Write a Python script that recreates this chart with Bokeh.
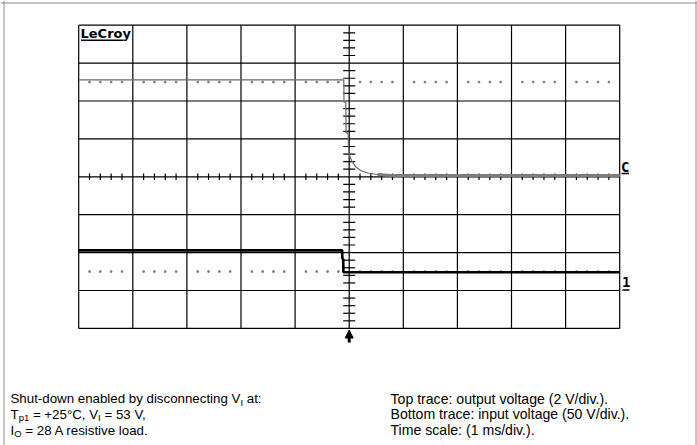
import numpy as np
from bokeh.plotting import figure
from bokeh.models import Range1d, Span, Arrow, NormalHead
from bokeh.core.properties import value
from bokeh.embed import file_html
from bokeh.resources import INLINE

# ---------------- data ----------------
# time axis in ms (1 ms/div), 0 = trigger
top_t = [-5.0, -0.10, -0.096, -0.063, -0.059, -0.018, -0.015, 0.006, 0.043,
         0.116, 0.209, 0.338, 0.523, 0.763, 5.0]
# output voltage (channel C), volts, 2 V/div, ground at centre line
top_v = [5.12, 5.12, 3.94, 3.94, 2.30, 2.30, 1.65, 1.12, 0.86,
         0.54, 0.33, 0.20, 0.12, 0.07, 0.07]
# input voltage (channel 1), volts, 50 V/div, ground at -2.5 div
bot_t = [-5.0, -0.13, -0.126, -0.111, -0.107, 5.0]
bot_v = [28.0, 28.0, 16.8, 16.8, -1.0, -1.0]

TOP_V_PER_DIV = 2.0
BOT_V_PER_DIV = 50.0
BOT_OFFSET_DIV = -2.5
X_DIVS = 10
Y_DIVS = 8
SETTLED_FROM = 12

brand = "LeCroy"
marker_top = "C"
marker_bot = "1"

notes_left = [
    [("Shut-down enabled by disconnecting V", 0), ("I", 1), (" at:", 0)],
    [("T", 0), ("p1", 1), (" = +25°C, V", 0), ("I", 1), (" = 53 V,", 0)],
    [("I", 0), ("O", 1), (" = 28 A resistive load.", 0)],
]
notes_right = [
    "Top trace: output voltage (2 V/div.).",
    "Bottom trace: input voltage (50 V/div.).",
    "Time scale: (1 ms/div.).",
]

# ---------------- layout helpers (page pixels -> data units) ----------------
W, H = 697, 445
CX, CY = 348.7, 176.3       # page position of graticule centre
PX, PY = 54.1, 37.9         # pixels per division


def px2x(px):
    return (px - CX) / PX


def px2y(py):
    return (CY - py) / PY


ARIAL = {' ': 278, '(': 333, ')': 333, '+': 584, ',': 278, '-': 333, '.': 278,
         '/': 278, ':': 278, '=': 584, '°': 400, 'A': 667, 'B': 667, 'C': 722,
         'I': 278, 'O': 778, 'S': 667, 'T': 611, 'V': 667, 'a': 556, 'b': 556,
         'c': 500, 'd': 556, 'e': 556, 'g': 556, 'h': 556, 'i': 222, 'l': 222,
         'm': 833, 'n': 556, 'o': 556, 'p': 556, 'r': 333, 's': 500, 't': 278,
         'u': 556, 'v': 500, 'w': 722, 'y': 500}


def text_w(s, size):
    return sum(ARIAL.get(c, 556) for c in s) * size / 1000.0


p = figure(width=W, height=H,
           x_range=Range1d(px2x(0), px2x(W)),
           y_range=Range1d(px2y(H), px2y(0)),
           x_axis_location=None, y_axis_location=None,
           toolbar_location=None, output_backend="svg",
           min_border=0, outline_line_color=None)
p.grid.visible = False
p.background_fill_color = "white"

# outer page frame (left, top, right)
fc = "#8c8c8c"
p.add_layout(Span(location=px2x(3.5), dimension="height", line_color=fc, line_width=1))
p.add_layout(Span(location=px2y(2.5), dimension="width", line_color=fc, line_width=1))
p.add_layout(Span(location=px2x(695.5), dimension="height", line_color=fc, line_width=1))

hx, hy = X_DIVS / 2, Y_DIVS / 2
gx = list(range(-X_DIVS // 2, X_DIVS // 2 + 1))
gy = list(range(-Y_DIVS // 2, Y_DIVS // 2 + 1))
p.segment(x0=gx, y0=-hy, x1=gx, y1=hy, line_color="black", line_width=1.2)
p.segment(x0=-hx, y0=gy, x1=hx, y1=gy, line_color="black", line_width=1.2)

# minor ticks on the centre cross
vt = [k * 0.2 for k in range(-Y_DIVS * 5 // 2, Y_DIVS * 5 // 2 + 1) if k % 5]
htk = [k * 0.2 for k in range(-X_DIVS * 5 // 2, X_DIVS * 5 // 2 + 1) if k % 5]
p.segment(x0=px2x(CX - 6), x1=px2x(CX + 6), y0=vt, y1=vt, line_color="black", line_width=1.2)
p.segment(x0=htk, x1=htk, y0=px2y(CY + 3.3), y1=px2y(CY - 3.3), line_color="black", line_width=1.2)

# reference dotted levels
p.scatter(htk, [2.5] * len(htk), marker="square", size=1.5, color="#7a7a7a")
p.scatter(htk, [BOT_OFFSET_DIV] * len(htk), marker="square", size=1.5, color="#7a7a7a")

# traces
top_y = [v / TOP_V_PER_DIV for v in top_v]
bot_y = [v / BOT_V_PER_DIV + BOT_OFFSET_DIV for v in bot_v]
p.line(top_t, top_y, line_color="#6a6a6a", line_width=1.2)
p.line(top_t[SETTLED_FROM:], top_y[SETTLED_FROM:], line_color="#7c7c7c", line_width=3)
p.line(bot_t, bot_y, line_color="black", line_width=2.6)

# labels on the screen
p.text(x=[px2x(80)], y=[px2y(32.5)], text=[brand], text_font=value("DejaVu Sans"),
       text_font_style="bold", text_font_size="13px", text_baseline="middle",
       text_color="black")
p.segment(x0=px2x(80.5), x1=px2x(123), y0=px2y(39.8), y1=px2y(39.8), line_color="black", line_width=1.5)

p.text(x=[px2x(620.5), px2x(621.5)], y=[px2y(166.5), px2y(281.5)], text=[marker_top, marker_bot],
       text_font=value("DejaVu Sans Mono"), text_font_style="bold", text_font_size="14px",
       text_baseline="middle", text_color="black")
p.segment(x0=[px2x(621), px2x(622)], x1=[px2x(628.5), px2x(629)],
          y0=[px2y(173), px2y(289.5)], y1=[px2y(173), px2y(289.5)],
          line_color="black", line_width=1.5)

# trigger arrow
p.add_layout(Arrow(end=NormalHead(size=8, fill_color="black", line_color="black"),
                   x_start=0, y_start=px2y(342), x_end=0, y_end=px2y(329.5),
                   line_color="black", line_width=3))

# notes under the screen
FS_L = 13.3
SUB = 9.5
FS_R = 14.1
mid = [398.0, 413.8, 429.5]
font = value("Liberation Sans")
for i, pieces in enumerate(notes_left):
    xcur = 10.0
    for s, sub in pieces:
        size = SUB if sub else FS_L
        yb = mid[i] + (3.5 if sub else 0.0)
        lead = len(s) - len(s.lstrip(" "))
        xcur += text_w(" " * lead, size)
        s2 = s.lstrip(" ")
        p.text(x=[px2x(xcur)], y=[px2y(yb)], text=[s2], text_font=font,
               text_font_size=f"{size}px", text_baseline="middle", text_color="black")
        xcur += text_w(s2, size)
for i, s in enumerate(notes_right):
    p.text(x=[px2x(390)], y=[px2y(mid[i])], text=[s], text_font=font,
           text_font_size=f"{FS_R}px", text_baseline="middle", text_color="black")

open("out.html", "w").write(file_html(p, INLINE))
